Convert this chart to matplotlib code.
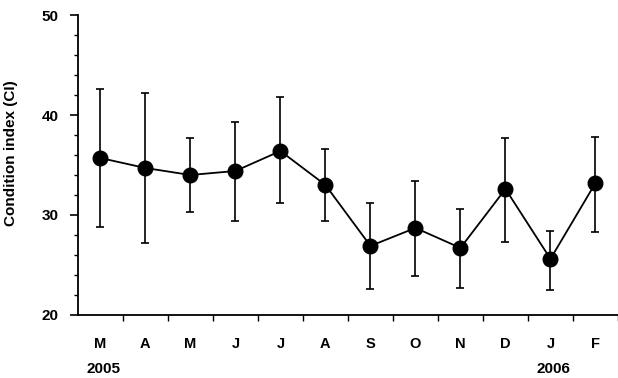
import matplotlib

matplotlib.use("Agg")
import matplotlib.pyplot as plt
from matplotlib.ticker import MultipleLocator, FixedLocator

plt.rcParams["font.family"] = ["Liberation Sans", "DejaVu Sans"]
plt.rcParams["font.weight"] = "bold"

# 月份与条件指数均值及误差上下限
months = ["M", "A", "M", "J", "J", "A", "S", "O", "N", "D", "J", "F"]
ci_mean = [35.7, 34.7, 34.0, 34.4, 36.4, 33.0, 26.9, 28.7, 26.7, 32.6, 25.6, 33.2]
ci_upper = [42.6, 42.2, 37.7, 39.3, 41.8, 36.6, 31.2, 33.4, 30.6, 37.7, 28.4, 37.8]
ci_lower = [28.8, 27.2, 30.3, 29.4, 31.2, 29.4, 22.6, 23.9, 22.7, 27.3, 22.5, 28.3]
year_labels = ["2005", "2006"]
year_positions = [0, 10]

x = list(range(len(months)))
err_low = [m - lo for m, lo in zip(ci_mean, ci_lower)]
err_high = [hi - m for m, hi in zip(ci_mean, ci_upper)]

figure, axis = plt.subplots(figsize=(6.18, 3.78), dpi=100)
figure.subplots_adjust(left=0.126, right=1.0, bottom=0.167, top=0.960)

axis.errorbar(
    x,
    ci_mean,
    yerr=[err_low, err_high],
    color="black",
    marker="o",
    markersize=10.5,
    linewidth=1.3,
    elinewidth=1.2,
    capsize=3,
    capthick=1.2,
)

axis.set_xlim(-0.5, len(months) - 0.5)
axis.set_ylim(20, 50)
axis.yaxis.set_major_locator(MultipleLocator(10))
axis.yaxis.set_minor_locator(MultipleLocator(2))
axis.xaxis.set_major_locator(FixedLocator([i + 0.5 for i in x]))
axis.xaxis.set_major_formatter(plt.NullFormatter())
axis.xaxis.set_minor_locator(FixedLocator(x))
axis.xaxis.set_minor_formatter(plt.FixedFormatter(months))
axis.tick_params(axis="x", which="minor", length=0, pad=16, labelsize=10.5)
axis.tick_params(axis="x", which="major", length=4, width=1)
axis.tick_params(axis="y", which="major", length=6, width=1.2, labelsize=11, pad=8)
axis.tick_params(axis="y", which="minor", length=3, width=1)

for spine in ("top", "right"):
    axis.spines[spine].set_visible(False)
for spine in ("left", "bottom"):
    axis.spines[spine].set_linewidth(1.3)

axis.set_ylabel("Condition index (CI)", fontsize=11, fontweight="bold")
axis.yaxis.set_label_coords(-0.11, 0.54)

for label, pos in zip(year_labels, year_positions):
    axis.annotate(
        label,
        xy=(pos, 0),
        xycoords=("data", "axes fraction"),
        xytext=(3, -54),
        textcoords="offset pixels",
        ha="center",
        va="center",
        fontsize=11,
        fontweight="bold",
    )

figure.savefig("out.png", dpi=100)
